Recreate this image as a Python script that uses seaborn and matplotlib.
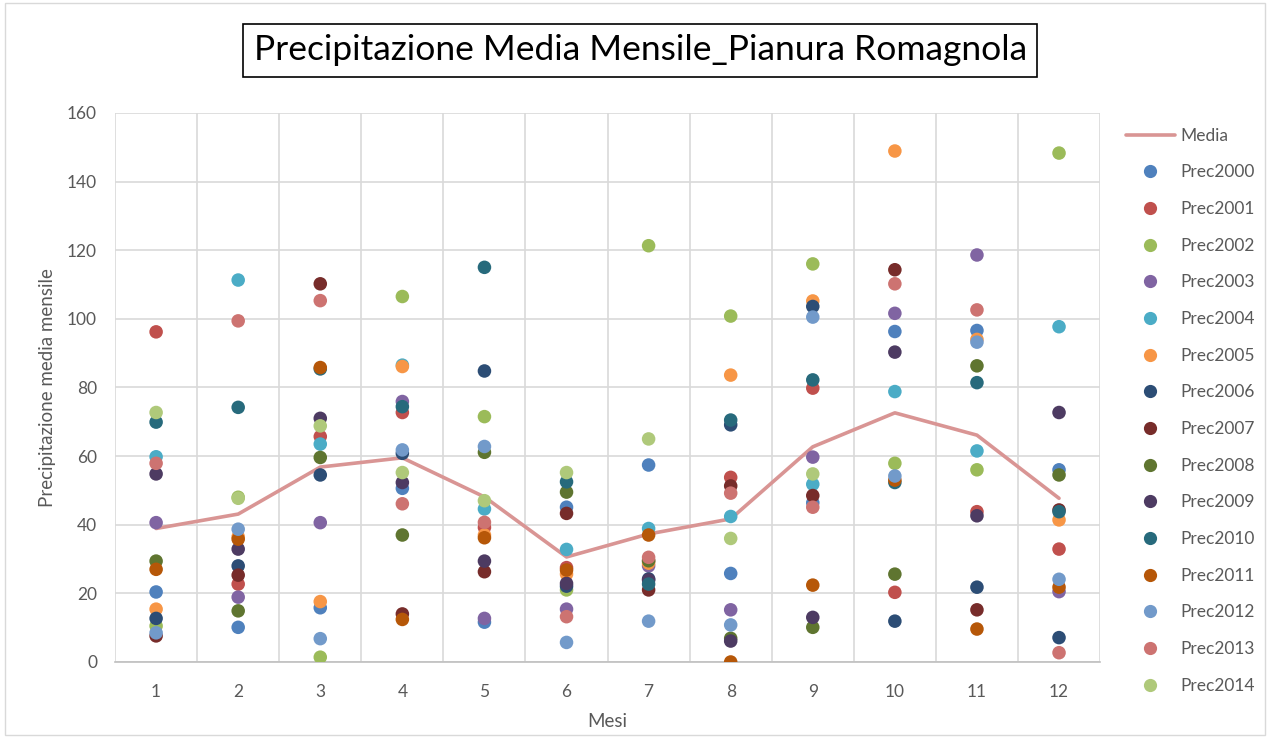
import numpy as np
import pandas as pd
import matplotlib
matplotlib.use("Agg")
import matplotlib.pyplot as plt
import seaborn as sns
from matplotlib.lines import Line2D
from matplotlib.patches import Rectangle

# Mesi e valori (mm)
mesi = list(range(1, 13))
anni = ["Prec2000", "Prec2001", "Prec2002", "Prec2003", "Prec2004", "Prec2005", "Prec2006",
        "Prec2007", "Prec2008", "Prec2009", "Prec2010", "Prec2011", "Prec2012", "Prec2013", "Prec2014"]

media = [38.9, 43.1, 56.8, 59.5, 48.1, 30.6, 37.3, 41.7, 62.7, 72.6, 66.1, 47.7]

p2000 = [20.4, 10.1, 15.8, 50.6, 11.6, 45.1, 57.4, 25.8, 46.4, 96.3, 96.6, 56.0]
p2001 = [96.2, 22.7, 65.7, 72.7, 39.2, 27.5, 29.5, 53.8, 79.8, 20.3, 43.8, 32.9]
p2002 = [10.5, 48.0, 1.4, 106.5, 71.5, 21.0, 121.3, 100.8, 116.0, 57.9, 56.0, 148.3]
p2003 = [40.6, 18.9, 40.6, 75.9, 12.7, 15.4, 28.0, 15.2, 59.7, 101.6, 118.6, 20.5]
p2004 = [59.8, 111.3, 63.5, 86.5, 44.6, 32.8, 38.9, 42.4, 51.8, 78.8, 61.5, 97.7]
p2005 = [15.4, 36.5, 17.6, 86.1, 37.0, 25.6, 28.8, 83.6, 105.2, 148.9, 94.0, 41.4]
p2006 = [12.7, 28.0, 54.5, 60.8, 84.8, 22.1, 24.2, 69.1, 103.6, 11.9, 21.8, 7.1]
p2007 = [7.6, 25.3, 110.2, 14.0, 26.3, 43.3, 21.0, 51.3, 48.5, 114.3, 15.2, 44.3]
p2008 = [29.4, 14.9, 59.6, 37.0, 61.1, 49.5, 29.5, 6.9, 10.1, 25.6, 86.3, 54.5]
p2009 = [54.8, 32.9, 71.0, 52.3, 29.4, 22.9, 23.9, 6.1, 13.0, 90.3, 42.6, 72.7]
p2010 = [69.9, 74.2, 85.4, 74.4, 115.0, 52.5, 22.7, 70.5, 82.2, 52.3, 81.4, 43.8]
p2011 = [27.0, 35.8, 85.8, 12.4, 36.2, 26.8, 37.0, 0.0, 22.4, 53.0, 9.6, 21.8]
p2012 = [8.5, 38.7, 6.8, 61.8, 62.8, 5.7, 11.9, 10.8, 100.5, 54.2, 93.2, 24.1]
p2013 = [57.9, 99.4, 105.3, 46.1, 40.7, 13.2, 30.5, 49.2, 45.1, 110.2, 102.6, 2.7]
p2014 = [72.7, 47.7, 68.8, 55.2, 47.0, 55.2, 65.0, 36.0, 54.8, np.nan, np.nan, np.nan]

valori = [p2000, p2001, p2002, p2003, p2004, p2005, p2006, p2007,
          p2008, p2009, p2010, p2011, p2012, p2013, p2014]

colori = ["#4F81BD", "#C0504D", "#9BBB59", "#8064A2", "#4BACC6", "#F79646", "#2C4D75",
          "#772C2A", "#5F7530", "#4D3B62", "#276A7C", "#B65708", "#729ACA", "#CD7371", "#AFC97A"]

# tabella lunga per seaborn
righe = []
for anno, vals in zip(anni, valori):
    for m, v in zip(mesi, vals):
        righe.append({"Mese": m, "Anno": anno, "Prec": v})
df = pd.DataFrame(righe).dropna()
df_media = pd.DataFrame({"Mese": mesi, "Media": media})

sns.set_theme(style="white")
plt.rcParams["font.family"] = ["Lato", "DejaVu Sans"]

fig = plt.figure(figsize=(12.7, 7.38), dpi=100)
ax = fig.add_axes([0.0906, 0.103, 0.7756, 0.744])

sns.lineplot(data=df_media, x="Mese", y="Media", color="#D99594", linewidth=2.6,
             ax=ax, zorder=2, label="Media")
palette = dict(zip(anni, colori))
sns.scatterplot(data=df, x="Mese", y="Prec", hue="Anno", hue_order=anni, palette=palette,
                s=95, linewidth=0, edgecolor="none", ax=ax, zorder=3)

ax.set_xlim(0.5, 12.5)
ax.set_ylim(0, 160)
ax.set_yticks(range(0, 161, 20))
ax.set_xticks(mesi)
ax.set_xticks(np.arange(0.5, 12.6, 1), minor=True)
ax.grid(False)
ax.yaxis.grid(True, color="#D9D9D9", linewidth=1.2)
ax.xaxis.grid(True, which="minor", color="#D9D9D9", linewidth=1.2)
for s in ["top", "right", "left"]:
    ax.spines[s].set_visible(False)
ax.spines["bottom"].set_color("#BFBFBF")
ax.spines["bottom"].set_linewidth(1.2)
ax.tick_params(axis="both", which="both", length=0, labelsize=12.5, labelcolor="#595959")
ax.tick_params(axis="y", pad=13)
ax.tick_params(axis="x", pad=16)
ax.set_xlabel("Mesi", fontsize=13.5, color="#595959", labelpad=9)
ax.set_ylabel("Precipitazione media mensile", fontsize=13.5, color="#595959", labelpad=8)

leg_handles = [Line2D([0], [0], color="#D99594", linewidth=2.6)]
leg_handles += [Line2D([0], [0], marker="o", linestyle="", markersize=9.5,
                       markerfacecolor=c, markeredgecolor="none") for c in colori]
leg = ax.legend(leg_handles, ["Media"] + anni, loc="upper left", bbox_to_anchor=(1.014, 0.995),
                frameon=False, fontsize=12.5, labelspacing=1.19, handlelength=2.8,
                handletextpad=0.35, borderaxespad=0.3)
for t in leg.get_texts():
    t.set_color("#595959")

fig.text(0.504, 0.932, "Precipitazione Media Mensile_Pianura Romagnola", ha="center",
         va="center", fontsize=25.5, color="black",
         bbox=dict(boxstyle="square,pad=0.3", facecolor="white", edgecolor="black", linewidth=1.2))

fig.patches.append(Rectangle((0.004, 0.004), 0.992, 0.992, transform=fig.transFigure,
                             fill=False, edgecolor="#D9D9D9", linewidth=1))

fig.savefig("out.png", dpi=100)
